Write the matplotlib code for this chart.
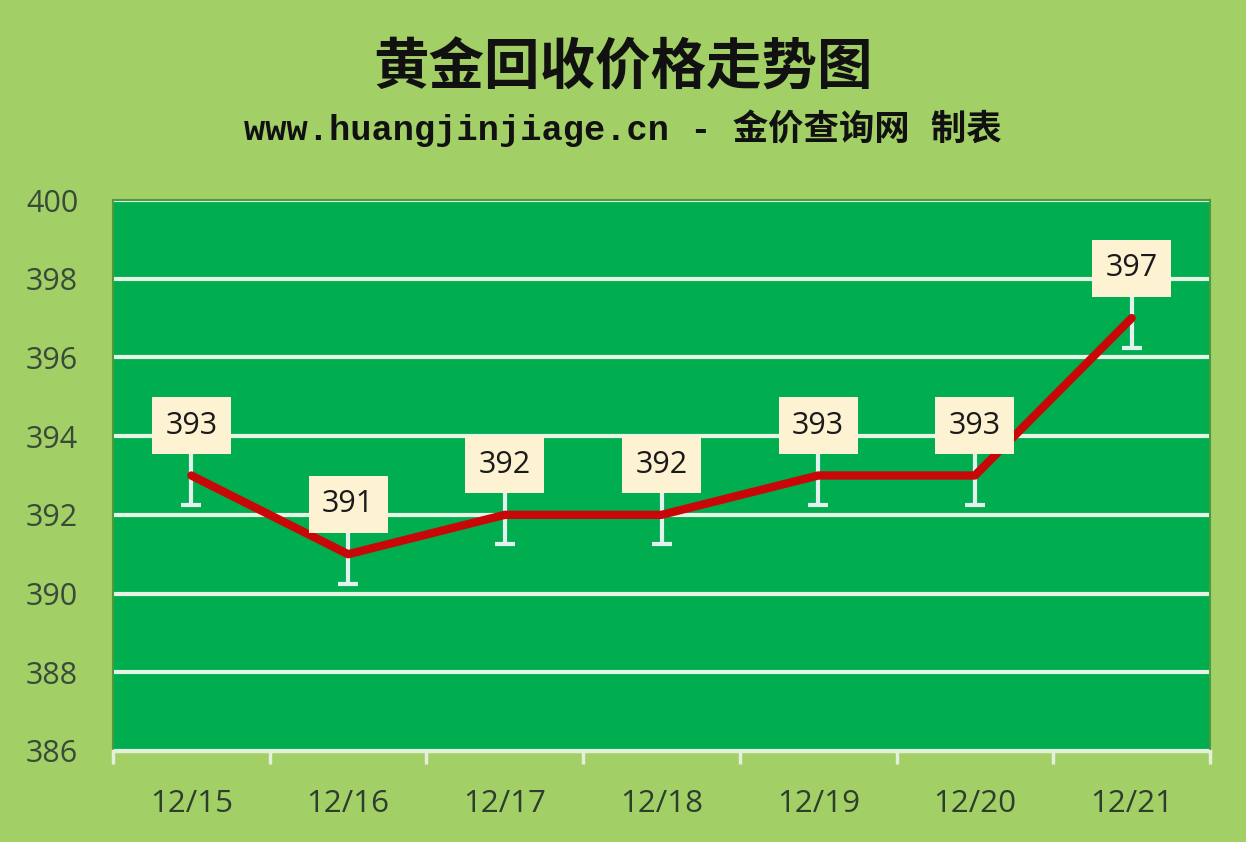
import matplotlib
matplotlib.use("Agg")
import matplotlib.pyplot as plt

dates = ["12/15", "12/16", "12/17", "12/18", "12/19", "12/20", "12/21"]
prices = [393, 391, 392, 392, 393, 393, 397]
err = [0.75] * 7
yticks = [386, 388, 390, 392, 394, 396, 398, 400]

title = "黄金回收价格走势图"
subtitle = "www.huangjinjiage.cn - 金价查询网 制表"

W, H = 1246, 842
fig = plt.figure(figsize=(W / 100, H / 100), dpi=100)
fig.patch.set_facecolor("#a2cf66")

ax = fig.add_axes([113 / W, 1 - 751 / H, (1210 - 113) / W, (751 - 200) / H])
ax.set_facecolor("#00ae4f")
ax.set_xlim(-0.5, len(dates) - 0.5)
ax.set_ylim(386, 400)

for s in ["top", "right", "left"]:
    ax.spines[s].set_color("#4e9a3e")
    ax.spines[s].set_linewidth(1.5)
ax.spines["bottom"].set_color("#e4f0dc")
ax.spines["bottom"].set_linewidth(2.5)

fam = ["Open Sans", "DejaVu Sans"]
ax.set_yticks(yticks)
ax.set_yticklabels([str(v) for v in yticks], fontfamily=fam)
ax.yaxis.grid(True, color="#e6f4e6", linewidth=3)
ax.set_axisbelow(True)
ax.tick_params(axis="y", length=0, pad=25, labelsize=22, labelcolor="#3a4a3a")
ax.set_xticks(range(len(dates)))
ax.set_xticklabels(dates, fontfamily=fam)
ax.set_xticks([i - 0.5 for i in range(len(dates) + 1)], minor=True)
ax.tick_params(axis="x", which="major", length=0, pad=27, labelsize=22.5, labelcolor="#2e3e2e")
ax.tick_params(axis="x", which="minor", length=9, width=2.5, color="#e4f0dc", direction="out")

x = list(range(len(dates)))
ax.errorbar(x, prices, yerr=err, fmt="none", ecolor="#e2f2ee", elinewidth=3,
            capsize=7, capthick=3, zorder=3)
ax.plot(x, prices, color="#c80808", linewidth=6, solid_joinstyle="round",
        solid_capstyle="round", zorder=4)

for xi, p in zip(x, prices):
    ax.annotate(str(p), (xi, p), xytext=(0, 50), textcoords="offset pixels",
                ha="center", va="center", fontsize=22, color="#1a1a1a",
                fontfamily=fam, zorder=6,
                bbox=dict(boxstyle="square,pad=0.44", fc="#fdf2d2", ec="none"))

fig.text(0.5, 1 - 68 / H, title, ha="center", va="center", fontsize=40,
         fontweight="bold", color="#111111", family=["Noto Sans CJK SC"])
fig.text(0.5, 1 - 128 / H, subtitle, ha="center", va="center", fontsize=25.5,
         fontweight="bold", color="#111111",
         family=["Liberation Mono", "Noto Sans CJK SC"])

fig.savefig("out.png", dpi=100, facecolor=fig.get_facecolor())
